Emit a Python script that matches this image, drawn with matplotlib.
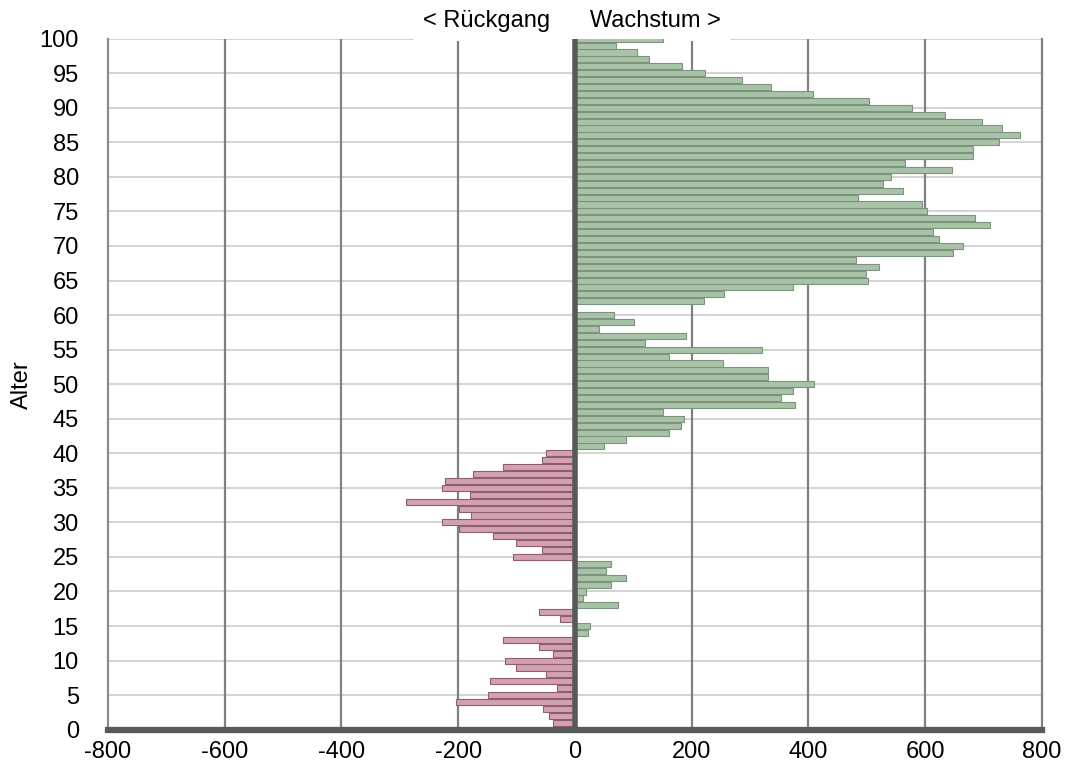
import numpy as np
import matplotlib.pyplot as plt

plt.rcParams['font.family'] = ['Liberation Sans', 'DejaVu Sans']
plt.rcParams['axes.unicode_minus'] = False

# Alter 0..100 und Veränderung je Altersjahr
alter = list(range(0, 101))
veraenderung = [
    -30, -38, -45, -54, -204, -149, -30, -145, -50, -101,      # 0-9
    -120, -37, -62, -123, 22, 26, -26, -62, 73, 14,            # 10-19
    18, 61, 88, 53, 62, -107, -57, -101, -141, -199,           # 20-29
    -227, -179, -199, -289, -180, -227, -223, -174, -124, -57, # 30-39
    -50, 49, 88, 161, 182, 186, 150, 377, 353, 373,            # 40-49
    409, 331, 330, 253, 161, 321, 120, 191, 41, 101,           # 50-59
    67, 0, 221, 255, 373, 502, 498, 521, 482, 647,             # 60-69
    665, 623, 614, 711, 686, 603, 595, 484, 562, 527,          # 70-79
    542, 645, 566, 682, 682, 726, 763, 732, 697, 633,          # 80-89
    577, 503, 407, 335, 286, 223, 183, 127, 106, 70,           # 90-99
    151,                                                       # 100
]

x_ticks = list(range(-800, 801, 200))
y_ticks = list(range(0, 101, 5))

gruen = '#A8C3A8'
gruen_rand = '#7E937E'
rosa = '#D4A1B1'
rosa_rand = '#8C5E6E'

farben = [gruen if v >= 0 else rosa for v in veraenderung]
raender = [gruen_rand if v >= 0 else rosa_rand for v in veraenderung]

fig = plt.figure(figsize=(10.65, 7.71), dpi=100)
ax = fig.add_axes([0.1014, 0.0536, 0.877, 0.8962])

# Gitternetz
for y in y_ticks[1:]:
    ax.axhline(y, color='#D4D4D4', lw=1.5, zorder=0)
for x in x_ticks[1:-1]:
    if x != 0:
        ax.axvline(x, color='#808080', lw=1.6, zorder=0)

# Beschriftung oben mit weißem Kasten (liegt hinter den Balken)
ax.annotate('< Rückgang      Wachstum >', xy=(0, 100), xytext=(-2, 5),
            textcoords='offset points', ha='center', va='bottom', fontsize=17,
            bbox=dict(facecolor='white', edgecolor='none', pad=6.5),
            zorder=1, annotation_clip=False)

ax.barh(alter, veraenderung, height=0.88, color=farben, edgecolor=raender,
        linewidth=0.8, zorder=2)

# Nulllinie und Grundlinie
ax.axvline(0, color='#595959', lw=4, zorder=3)
ax.axhline(0, color='#595959', lw=4.5, zorder=3, clip_on=False)

ax.set_xlim(-800, 800)
ax.set_ylim(0, 100)
ax.set_xticks(x_ticks)
ax.set_yticks(y_ticks)
ax.tick_params(axis='both', length=0, labelsize=17)
ax.tick_params(axis='y', pad=21)
ax.tick_params(axis='x', pad=8)

for s in ['top', 'bottom']:
    ax.spines[s].set_visible(False)
ax.spines['left'].set_color('#8C8C8C')
ax.spines['left'].set_linewidth(1.6)
ax.spines['right'].set_color('#808080')
ax.spines['right'].set_linewidth(1.6)

ax.set_ylabel('Alter', fontsize=17, labelpad=5)

plt.savefig('out.png', dpi=100)
